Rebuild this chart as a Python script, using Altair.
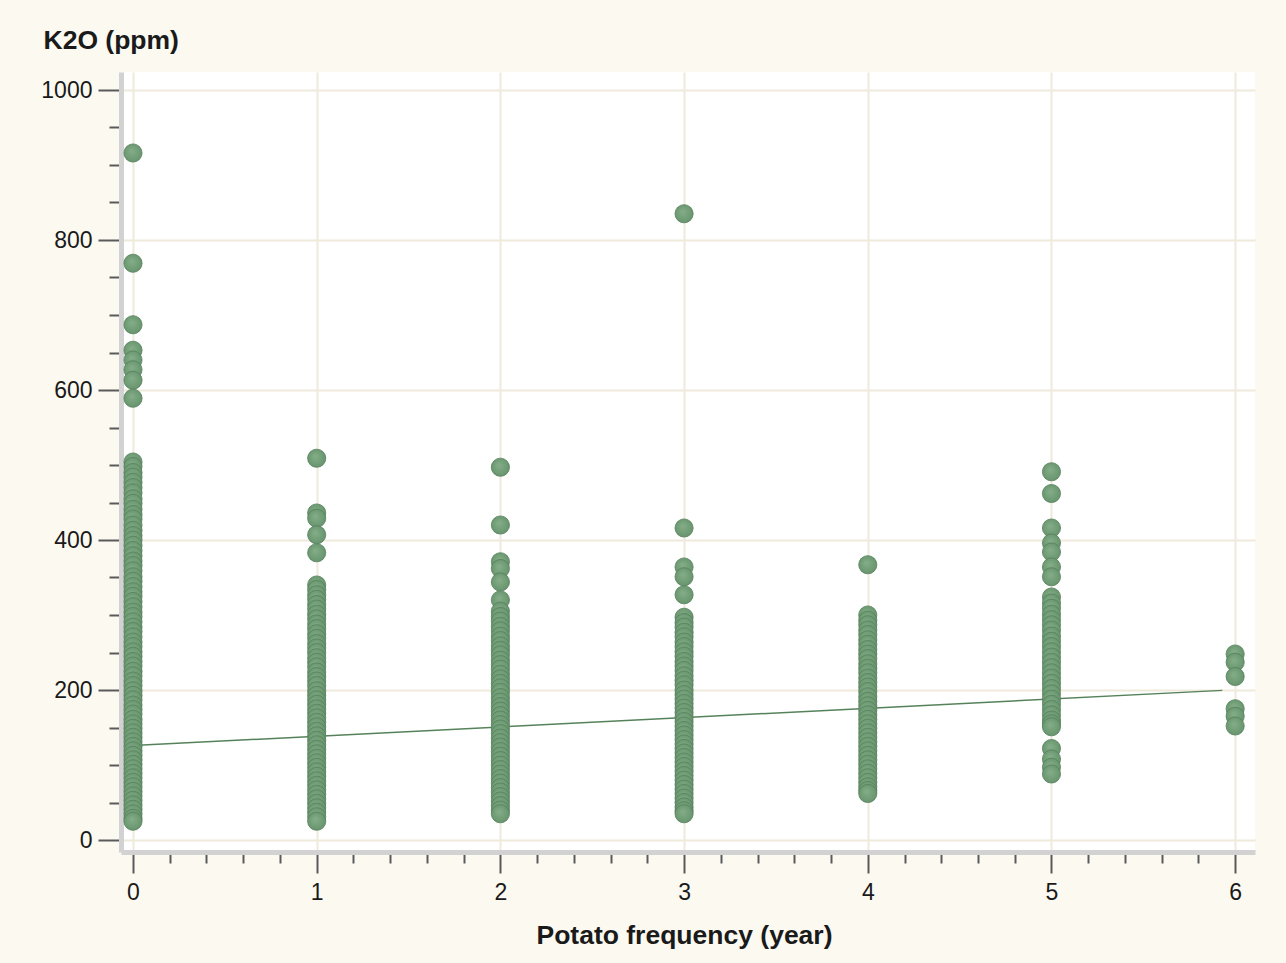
import altair as alt
import pandas as pd

# K2O (ppm) readings grouped by potato frequency (years)
k2o_freq0 = [916, 769, 687, 653, 640, 627, 613, 589,
             504, 498, 490, 484, 477, 470, 463, 455, 449, 441, 434, 428, 420, 413,
             406, 400, 393, 386, 379, 372, 366, 359, 351, 345, 338, 331, 325, 318,
             311, 304, 298, 291, 284, 278, 271, 264, 258, 251, 245, 238, 232, 225,
             219, 212, 206, 199, 193, 187, 180, 174, 168, 161, 155, 149, 143, 137,
             131, 125, 119, 113, 107, 101, 95, 89, 83, 77, 71, 65, 59, 53, 47, 41,
             35, 29, 25]
k2o_freq1 = [509, 436, 429, 407, 383,
             340, 334, 327, 321, 314, 308, 301, 295, 288, 282, 275, 269, 262, 256,
             250, 243, 237, 231, 224, 218, 212, 206, 199, 193, 187, 181, 175, 169,
             163, 157, 151, 145, 139, 133, 127, 121, 115, 109, 103, 97, 91, 85, 79,
             73, 67, 61, 55, 49, 43, 37, 31, 25]
k2o_freq2 = [497, 420, 371, 362, 344, 320,
             305, 298, 292, 285, 279, 272, 266, 259, 253, 247, 240, 234, 228, 221,
             215, 209, 203, 197, 190, 184, 178, 172, 166, 160, 154, 148, 142, 136,
             130, 124, 118, 112, 106, 100, 94, 88, 82, 76, 70, 64, 58, 52, 46, 40, 35]
k2o_freq3 = [835, 416, 364, 351, 327,
             297, 290, 284, 277, 271, 264, 258, 251, 245, 238, 232, 226, 219, 213,
             207, 200, 194, 188, 182, 176, 170, 164, 158, 152, 146, 140, 134, 128,
             122, 116, 110, 104, 98, 92, 86, 80, 74, 68, 62, 56, 50, 44, 39, 35]
k2o_freq4 = [367,
             300, 293, 287, 280, 274, 267, 261, 254, 248, 242, 235, 229, 223, 216,
             210, 204, 198, 191, 185, 179, 173, 167, 161, 155, 149, 143, 137, 131,
             125, 119, 113, 107, 101, 95, 89, 83, 77, 71, 66, 62]
k2o_freq5 = [491, 462, 416, 396, 384, 364, 351,
             324, 316, 309, 301, 294, 287, 280, 272, 265, 258, 251, 244, 237, 230,
             223, 216, 209, 202, 195, 188, 181, 174, 167, 160, 155, 151,
             122, 108, 97, 88]
k2o_freq6 = [248, 237, 218, 175, 165, 152]

groups = [k2o_freq0, k2o_freq1, k2o_freq2, k2o_freq3, k2o_freq4, k2o_freq5, k2o_freq6]

# Least-squares fit line end points
fit_x = [0, 5.93]
fit_y = [126, 199.5]

# Axis tick positions (major + minor)
x_ticks = [round(i * 0.2, 1) for i in range(31)]
y_ticks = list(range(0, 1001, 50))

rows = [{"freq": f, "k2o": v} for f, vals in enumerate(groups) for v in vals]
points_df = pd.DataFrame(rows)
fit_df = pd.DataFrame({"freq": fit_x, "k2o": fit_y})

FONT = "Liberation Sans"
TEXT = "#1a1a1a"

x_scale = alt.Scale(domain=[-0.0653, 6.108], nice=False, zero=False)
y_scale = alt.Scale(domain=[-16, 1024], nice=False, zero=False)

x_major = "abs(datum.value - round(datum.value)) < 0.001"
y_major = "datum.value % 200 === 0"

x_axis = alt.Axis(
    values=x_ticks,
    labelExpr=f"{x_major} ? format(datum.value, 'd') : ''",
    tickSize={"condition": {"test": x_major, "value": 21}, "value": 11},
    gridOpacity={"condition": {"test": x_major, "value": 1}, "value": 0},
    tickColor="#5a5a5a", tickWidth=2,
    domainColor="#d2d2d2", domainWidth=5,
    gridColor="#efeadb", gridWidth=2,
    labelFont=FONT, labelFontSize=23, labelColor=TEXT, labelPadding=8,
    labelFlush=False,
    title="Potato frequency (year)",
    titleFont=FONT, titleFontSize=26.5, titleFontWeight="bold", titleColor=TEXT,
    titleX=563, titleY=91, titleBaseline="alphabetic", titleAnchor="middle",
)

y_axis = alt.Axis(
    values=y_ticks,
    labelExpr=f"{y_major} ? format(datum.value, 'd') : ''",
    tickSize={"condition": {"test": y_major, "value": 23}, "value": 12},
    gridOpacity={"condition": {"test": y_major, "value": 1}, "value": 0},
    tickColor="#5a5a5a", tickWidth=2,
    domainColor="#d2d2d2", domainWidth=5,
    gridColor="#efeadb", gridWidth=2,
    labelFont=FONT, labelFontSize=23, labelColor=TEXT, labelPadding=6,
    labelFlush=False,
    title="K2O (ppm)",
    titleFont=FONT, titleFontSize=26.5, titleFontWeight="bold", titleColor=TEXT,
    titleAngle=0, titleAlign="left", titleBaseline="alphabetic",
    titleX=-78, titleY=-24,
)

fit_line = alt.Chart(fit_df).mark_line(color="#55825a", strokeWidth=1.5).encode(
    x=alt.X("freq:Q", scale=x_scale, axis=x_axis),
    y=alt.Y("k2o:Q", scale=y_scale, axis=y_axis),
)

dot_fill = alt.Gradient(
    gradient="radial",
    stops=[alt.GradientStop(offset=0, color="#84ae87"),
           alt.GradientStop(offset=1, color="#62906a")],
    x1=0.42, y1=0.38, x2=0.5, y2=0.5, r1=0, r2=0.62,
)

dots = alt.Chart(points_df).mark_circle(
    size=330, opacity=1, fill=dot_fill, stroke="#55805b", strokeWidth=0.8
).encode(
    x=alt.X("freq:Q", scale=x_scale, axis=x_axis),
    y=alt.Y("k2o:Q", scale=y_scale, axis=y_axis),
)

chart = (
    alt.layer(fit_line, dots)
    .properties(
        width=1134, height=780,
        autosize=alt.AutoSizeParams(type="none"),
        padding={"left": 121, "top": 72, "right": 31, "bottom": 111},
        background="#fcf9f1",
    )
    .configure_view(fill="white", strokeWidth=0)
)

chart.save("out.html", embed_options={"renderer": "svg", "actions": False})
